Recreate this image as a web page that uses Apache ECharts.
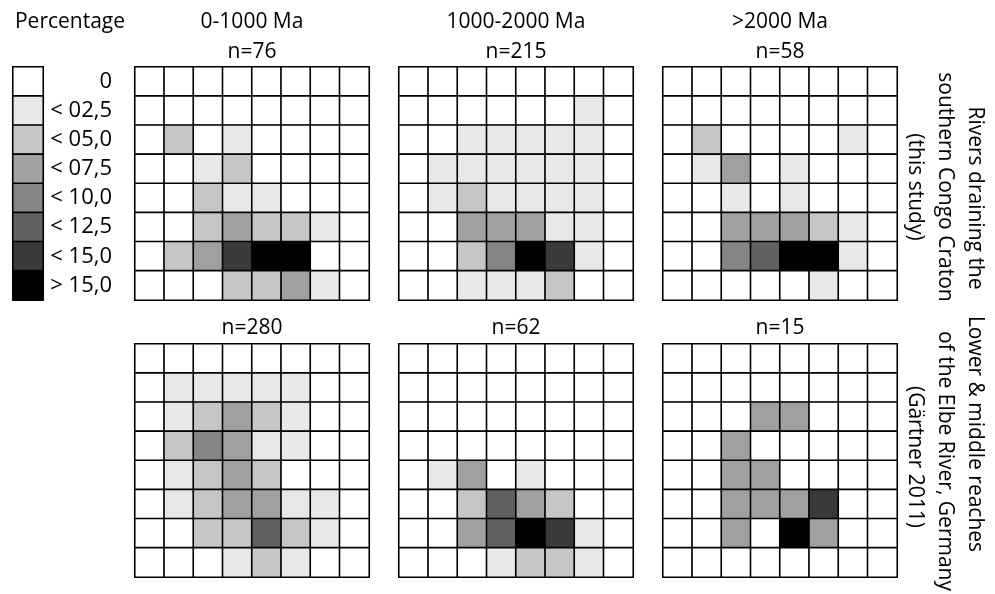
<!DOCTYPE html>
<html>
<head>
<meta charset="utf-8">
<script src="https://cdn.jsdelivr.net/npm/echarts@6/dist/echarts.min.js"></script>
<style>
  html, body { margin: 0; padding: 0; background: #fff; }
  #chart { width: 995px; height: 594px; }
</style>
</head>
<body>
<div id="chart"></div>
<script>
// percentage classes (0 = white ... 7 = black)
const levelColors = ['#ffffff', '#e8e8e8', '#c5c6c5', '#a0a0a0', '#858585', '#616161', '#3a3a38', '#000000'];
const legendLabels = ['0', '< 02,5', '< 05,0', '< 07,5', '< 10,0', '< 12,5', '< 15,0', '> 15,0'];
const ageTitles = ['0-1000 Ma', '1000-2000 Ma', '>2000 Ma'];
const panelTitles = ['n=76', 'n=215', 'n=58', 'n=280', 'n=62', 'n=15'];
const cols = ['1', '2', '3', '4', '5', '6', '7', '8'];
const rows = ['1', '2', '3', '4', '5', '6', '7', '8'];

// each grid: rows top -> bottom, values = class index
const congoYoung = [
  [0, 0, 0, 0, 0, 0, 0, 0],
  [0, 0, 0, 0, 0, 0, 0, 0],
  [0, 2, 0, 1, 0, 0, 0, 0],
  [0, 0, 1, 2, 0, 0, 0, 0],
  [0, 0, 2, 1, 1, 0, 0, 0],
  [0, 0, 2, 3, 2, 2, 1, 0],
  [0, 2, 3, 6, 7, 7, 0, 0],
  [0, 0, 0, 2, 2, 3, 1, 0]
];
const congoMid = [
  [0, 0, 0, 0, 0, 0, 0, 0],
  [0, 0, 0, 0, 0, 0, 1, 0],
  [0, 0, 1, 1, 1, 1, 1, 0],
  [0, 1, 1, 1, 1, 1, 1, 0],
  [0, 1, 2, 1, 1, 1, 1, 0],
  [0, 0, 3, 3, 3, 1, 1, 0],
  [0, 0, 2, 4, 7, 6, 1, 0],
  [0, 0, 1, 1, 1, 2, 0, 0]
];
const congoOld = [
  [0, 0, 0, 0, 0, 0, 0, 0],
  [0, 0, 0, 0, 0, 0, 0, 0],
  [0, 2, 0, 0, 0, 0, 1, 0],
  [0, 1, 3, 0, 1, 0, 0, 0],
  [0, 0, 1, 0, 1, 0, 0, 0],
  [0, 0, 3, 3, 3, 2, 1, 0],
  [0, 0, 4, 5, 7, 7, 1, 0],
  [0, 0, 0, 0, 0, 1, 0, 0]
];
const elbeYoung = [
  [0, 0, 0, 0, 0, 0, 0, 0],
  [0, 1, 1, 1, 1, 1, 0, 0],
  [0, 1, 2, 3, 2, 1, 0, 0],
  [0, 2, 4, 3, 1, 1, 0, 0],
  [0, 1, 2, 3, 2, 0, 0, 0],
  [0, 1, 2, 3, 3, 1, 1, 0],
  [0, 0, 2, 2, 5, 2, 1, 0],
  [0, 0, 0, 1, 2, 1, 0, 0]
];
const elbeMid = [
  [0, 0, 0, 0, 0, 0, 0, 0],
  [0, 0, 0, 0, 0, 0, 0, 0],
  [0, 0, 0, 0, 0, 0, 0, 0],
  [0, 0, 0, 0, 0, 0, 0, 0],
  [0, 1, 3, 0, 1, 0, 0, 0],
  [0, 0, 2, 5, 3, 2, 0, 0],
  [0, 0, 3, 5, 7, 6, 1, 0],
  [0, 0, 0, 1, 2, 2, 1, 0]
];
const elbeOld = [
  [0, 0, 0, 0, 0, 0, 0, 0],
  [0, 0, 0, 0, 0, 0, 0, 0],
  [0, 0, 0, 3, 3, 0, 0, 0],
  [0, 0, 3, 0, 0, 0, 0, 0],
  [0, 0, 3, 3, 0, 0, 0, 0],
  [0, 0, 3, 3, 3, 6, 0, 0],
  [0, 0, 3, 0, 7, 3, 0, 0],
  [0, 0, 0, 0, 0, 0, 0, 0]
];
const panels = [congoYoung, congoMid, congoOld, elbeYoung, elbeMid, elbeOld];

const FONT = '"Open Sans", "Noto Sans", sans-serif';
const panelLeft = [135, 399, 663];
const panelTop = [67, 344];
const panelW = 234, panelH = 233;

function toCells(m) {
  const out = [];
  m.forEach((row, r) => row.forEach((v, c) => out.push([c, r, v])));
  return out;
}

const grids = [], xAxes = [], yAxes = [], series = [];
const hidden = { axisLine: { show: false }, axisTick: { show: false }, axisLabel: { show: false }, splitLine: { show: false }, splitArea: { show: false } };
const cellStyle = { borderColor: '#000', borderWidth: 1.6 };

panels.forEach((m, i) => {
  grids.push({ left: panelLeft[i % 3], top: panelTop[Math.floor(i / 3)], width: panelW, height: panelH });
  xAxes.push(Object.assign({ type: 'category', data: cols, gridIndex: i }, hidden));
  yAxes.push(Object.assign({ type: 'category', data: rows, gridIndex: i, inverse: true }, hidden));
  series.push({
    type: 'heatmap', xAxisIndex: i, yAxisIndex: i, data: toCells(m),
    itemStyle: cellStyle,
    emphasis: { disabled: true }
  });
});

// legend column
grids.push({ left: 13, top: 67, width: 30, height: 233 });
xAxes.push(Object.assign({ type: 'category', data: ['p'], gridIndex: 6 }, hidden));
yAxes.push({
  type: 'category', data: legendLabels, gridIndex: 6, inverse: true, position: 'right',
  axisLine: { show: false }, axisTick: { show: false }, splitLine: { show: false },
  axisLabel: { show: true, align: 'right', margin: 69, fontSize: 22, fontFamily: FONT, color: '#000' }
});
series.push({
  type: 'heatmap', xAxisIndex: 6, yAxisIndex: 6,
  data: legendLabels.map((_, k) => [0, k, k]),
  itemStyle: cellStyle,
  emphasis: { disabled: true }
});

function txt(text, x, y, extra) {
  return Object.assign({
    type: 'text', x: x, y: y, silent: true,
    style: { text: text, fontSize: 21, fontFamily: FONT, fill: '#000', align: 'center', verticalAlign: 'middle' }
  }, extra || {});
}

const graphics = [txt('Percentage', 70, 22)];
ageTitles.forEach((t, i) => graphics.push(txt(t, panelLeft[i] + panelW / 2, 22)));
panelTitles.forEach((t, i) => graphics.push(txt(t, panelLeft[i % 3] + panelW / 2, i < 3 ? 52 : 328)));
const rot = { rotation: -Math.PI / 2 };
graphics.push(txt('Rivers draining the', 975, 198, rot));
graphics.push(txt('southern Congo Craton', 945, 187, rot));
graphics.push(txt('(this study)', 915, 187, rot));
graphics.push(txt('Lower & middle reaches', 975, 434, rot));
graphics.push(txt('of the Elbe River, Germany', 945, 461, rot));
graphics.push(txt('(G\u00e4rtner 2011)', 915, 457, rot));

const chart = echarts.init(document.getElementById('chart'), null, { renderer: 'canvas' });
chart.setOption({
  animation: false,
  backgroundColor: '#fff',
  grid: grids,
  xAxis: xAxes,
  yAxis: yAxes,
  visualMap: {
    type: 'piecewise', show: false, seriesIndex: [0, 1, 2, 3, 4, 5, 6],
    pieces: levelColors.map((c, k) => ({ value: k, color: c }))
  },
  series: series,
  graphic: graphics
});
</script>
</body>
</html>
